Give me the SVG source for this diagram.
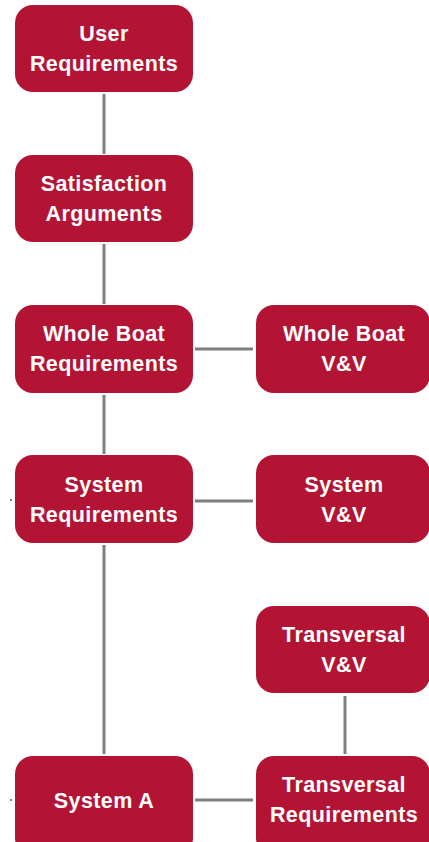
<svg xmlns="http://www.w3.org/2000/svg" width="429" height="842" viewBox="0 0 429 842">
  <style>
    .box { fill: #B41434; }
    .lbl { fill: #FFFFFF; font-family: "Liberation Sans", Arial, sans-serif; font-weight: bold; font-size: 21.5px; letter-spacing: 0.4px; text-anchor: middle; }
    .wire { stroke: #7F7F7F; stroke-width: 3; fill: none; }
    .tick { stroke: #7F7F7F; stroke-width: 2; }
  </style>
  <rect width="429" height="842" fill="#FFFFFF"/>

  <g id="connectors">
    <line class="wire" x1="104" y1="94" x2="104" y2="154"/>
    <line class="wire" x1="104" y1="244" x2="104" y2="304"/>
    <line class="wire" x1="104" y1="395" x2="104" y2="454"/>
    <line class="wire" x1="104" y1="545" x2="104" y2="754"/>
    <line class="wire" x1="195" y1="349" x2="253" y2="349"/>
    <line class="wire" x1="195" y1="501" x2="253" y2="501"/>
    <line class="wire" x1="195" y1="800" x2="253" y2="800"/>
    <line class="wire" x1="345" y1="696" x2="345" y2="754"/>
    <line class="tick" x1="11" y1="499" x2="11" y2="501"/>
    <line class="tick" x1="11" y1="799" x2="11" y2="801"/>
  </g>

  <g id="user-requirements">
    <rect class="box" x="15" y="5" width="178" height="87" rx="18"/>
    <text class="lbl" x="104" y="41">User</text>
    <text class="lbl" x="104" y="71">Requirements</text>
  </g>

  <g id="satisfaction-arguments">
    <rect class="box" x="15" y="155" width="178" height="87" rx="18"/>
    <text class="lbl" x="104" y="191">Satisfaction</text>
    <text class="lbl" x="104" y="221">Arguments</text>
  </g>

  <g id="whole-boat-requirements">
    <rect class="box" x="15" y="305" width="178" height="88" rx="18"/>
    <text class="lbl" x="104" y="341">Whole Boat</text>
    <text class="lbl" x="104" y="371">Requirements</text>
  </g>

  <g id="whole-boat-vv">
    <rect class="box" x="256" y="305" width="174" height="88" rx="18"/>
    <text class="lbl" x="344" y="341">Whole Boat</text>
    <text class="lbl" x="344" y="371">V&amp;V</text>
  </g>

  <g id="system-requirements">
    <rect class="box" x="15" y="455" width="178" height="88" rx="18"/>
    <text class="lbl" x="104" y="492">System</text>
    <text class="lbl" x="104" y="522">Requirements</text>
  </g>

  <g id="system-vv">
    <rect class="box" x="256" y="455" width="174" height="88" rx="18"/>
    <text class="lbl" x="344" y="492">System</text>
    <text class="lbl" x="344" y="522">V&amp;V</text>
  </g>

  <g id="transversal-vv">
    <rect class="box" x="256" y="606" width="174" height="87" rx="18"/>
    <text class="lbl" x="344" y="642">Transversal</text>
    <text class="lbl" x="344" y="672">V&amp;V</text>
  </g>

  <g id="system-a">
    <rect class="box" x="15" y="756" width="178" height="100" rx="18"/>
    <text class="lbl" x="104" y="808">System A</text>
  </g>

  <g id="transversal-requirements">
    <rect class="box" x="256" y="756" width="174" height="100" rx="18"/>
    <text class="lbl" x="344" y="792">Transversal</text>
    <text class="lbl" x="344" y="822">Requirements</text>
  </g>
</svg>
